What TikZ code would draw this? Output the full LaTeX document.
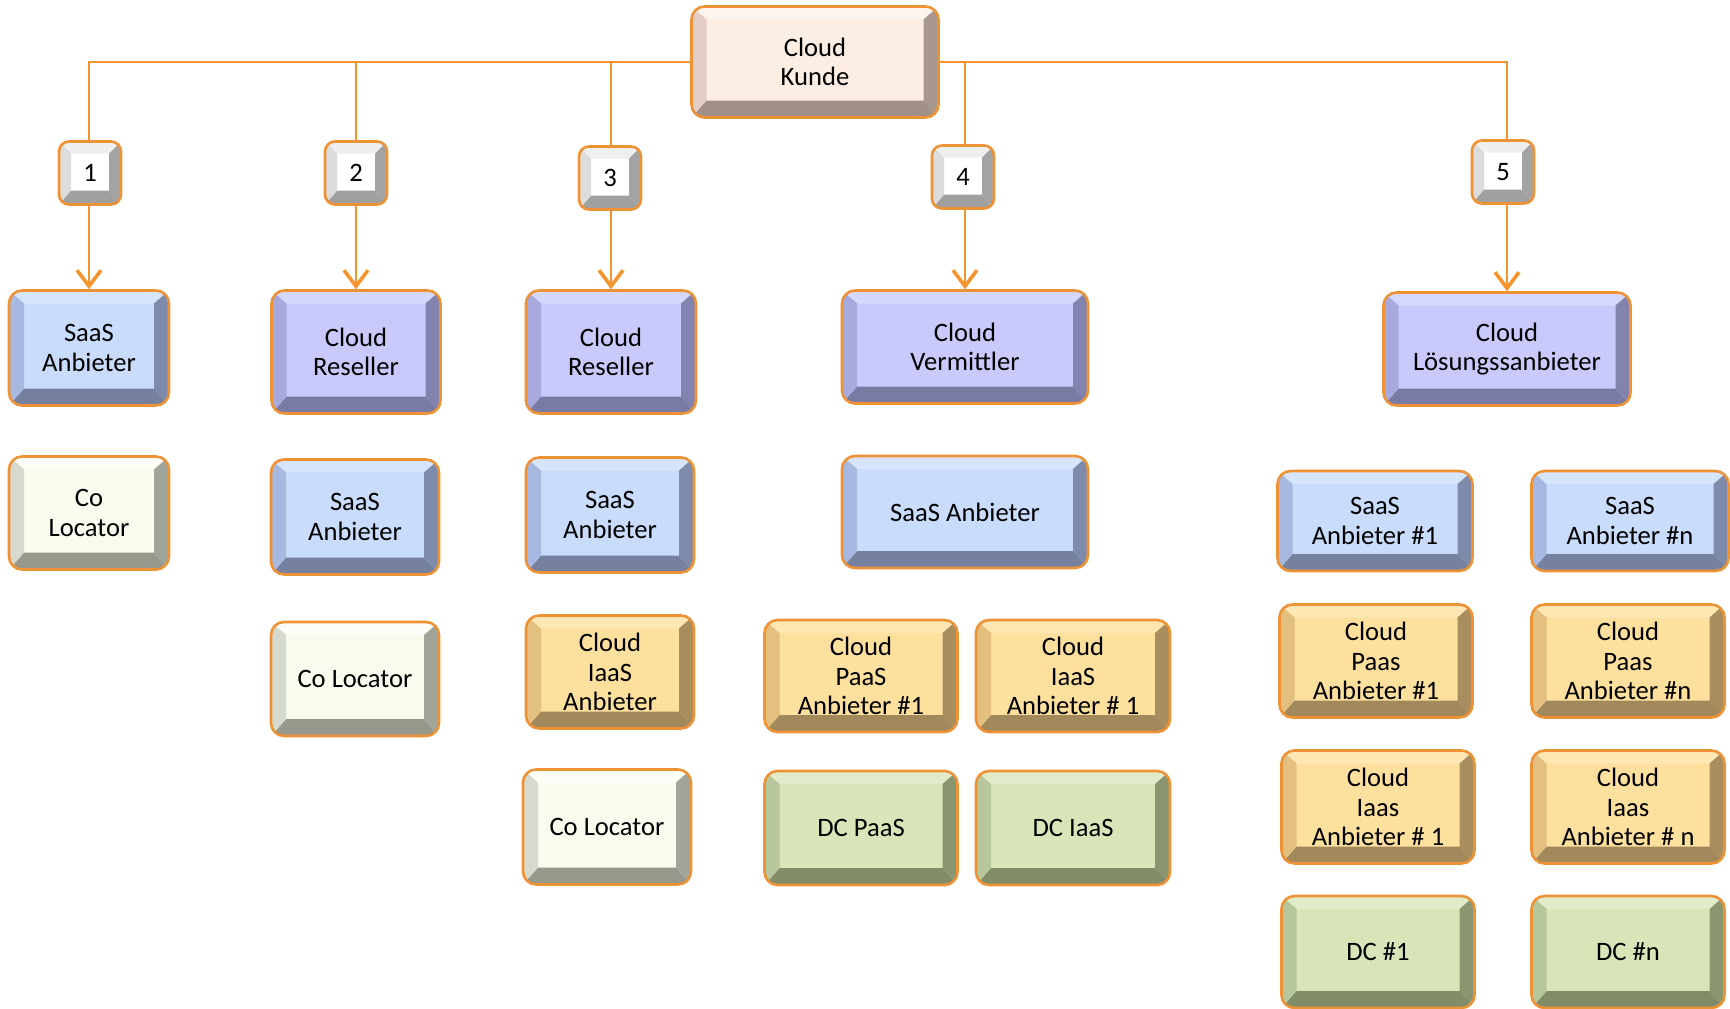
\documentclass[tikz,border=0pt]{standalone}
\usepackage{fontspec}
\setmainfont{Carlito}
\usetikzlibrary{arrows.meta,calc}

% line colours
\definecolor{edgeorange}{HTML}{EE9236}
\definecolor{wire}{HTML}{F6952E}
% face / top / left / right / bottom of each key family
\definecolor{kuF}{HTML}{FDEEE3}\definecolor{kuT}{HTML}{FEF4EE}\definecolor{kuL}{HTML}{E3CDC4}\definecolor{kuR}{HTML}{A8978F}\definecolor{kuB}{HTML}{A09088}
\definecolor{nkF}{HTML}{FFFFFF}\definecolor{nkT}{HTML}{EFEFEF}\definecolor{nkL}{HTML}{DCDCDC}\definecolor{nkR}{HTML}{A3A3A3}\definecolor{nkB}{HTML}{A0A0A0}
\definecolor{saF}{HTML}{C9DCFB}\definecolor{saT}{HTML}{D6E5FC}\definecolor{saL}{HTML}{A7B9E0}\definecolor{saR}{HTML}{7E8BAA}\definecolor{saB}{HTML}{75819E}
\definecolor{clF}{HTML}{C9CAFB}\definecolor{clT}{HTML}{D6D7FC}\definecolor{clL}{HTML}{A8A9DC}\definecolor{clR}{HTML}{8283AE}\definecolor{clB}{HTML}{7A7BA4}
\definecolor{coF}{HTML}{F8FCEF}\definecolor{coT}{HTML}{FBFDF6}\definecolor{coL}{HTML}{D6D9CE}\definecolor{coR}{HTML}{A1A498}\definecolor{coB}{HTML}{96998C}
\definecolor{yeF}{HTML}{FDE09D}\definecolor{yeT}{HTML}{FEE7B2}\definecolor{yeL}{HTML}{E3BF80}\definecolor{yeR}{HTML}{A88D5F}\definecolor{yeB}{HTML}{A1895C}
\definecolor{grF}{HTML}{D8E5B8}\definecolor{grT}{HTML}{E1EBC9}\definecolor{grL}{HTML}{B7C69B}\definecolor{grR}{HTML}{89966F}\definecolor{grB}{HTML}{808D68}

% default bevel insets
\def\bevL{7.5pt}\def\bevT{6.5pt}\def\bevR{7.5pt}\def\bevB{8.5pt}

\tikzset{
  bevel insets/.code n args={4}{\def\bevL{#1}\def\bevT{#2}\def\bevR{#3}\def\bevB{#4}},
  bevel/.style n args={5}{% face, top, left, right, bottom
    draw=edgeorange, line width=1.3pt, rounded corners=6.5pt, fill=#1,
    align=center, inner sep=0pt, font=\fontsize{13.3}{14.6}\selectfont,
    path picture={
      \path (path picture bounding box.south west) coordinate (q1)
            (path picture bounding box.north east) coordinate (q3);
      \path (q1 |- q3) coordinate (q2) (q3 |- q1) coordinate (q4);
      \begin{scope}[sharp corners]
      \fill[#2] (q2) -- (q3) -- ($(q3)+(-\bevR,-\bevT)$) -- ($(q2)+(\bevL,-\bevT)$) -- cycle;
      \fill[#5] (q1) -- (q4) -- ($(q4)+(-\bevR,\bevB)$) -- ($(q1)+(\bevL,\bevB)$) -- cycle;
      \fill[#3] (q1) -- (q2) -- ($(q2)+(\bevL,-\bevT)$) -- ($(q1)+(\bevL,\bevB)$) -- cycle;
      \fill[#4] (q4) -- (q3) -- ($(q3)+(-\bevR,-\bevT)$) -- ($(q4)+(-\bevR,\bevB)$) -- cycle;
      \end{scope}
    }
  },
  kunde/.style={bevel={kuF}{kuT}{kuL}{kuR}{kuB}},
  numkey/.style={bevel={nkF}{nkT}{nkL}{nkR}{nkB}, bevel insets={6pt}{6pt}{6pt}{7pt},
    minimum width=31pt, minimum height=31.5pt, rounded corners=5pt},
  saas/.style={bevel={saF}{saT}{saL}{saR}{saB}},
  cloudrole/.style={bevel={clF}{clT}{clL}{clR}{clB}},
  coloc/.style={bevel={coF}{coT}{coL}{coR}{coB}},
  infra/.style={bevel={yeF}{yeT}{yeL}{yeR}{yeB}},
  dc/.style={bevel={grF}{grT}{grL}{grR}{grB}},
  sz/.style 2 args={minimum width=#1, minimum height=#2},
  wire/.style={draw=wire, line width=1pt},
  arr/.style={wire, -{Straight Barb[length=8pt,width=12pt,line width=1.8pt]}},
}

\begin{document}
\begin{tikzpicture}[x=0.5pt,y=-0.5pt]
\useasboundingbox (0,0) rectangle (1730,1008);

% root
\node[kunde, sz={123.5pt}{55.5pt}] (kunde) at (815,62) {Cloud\\Kunde};

% numbered keys
\node[numkey] (k1) at (90,173) {1};
\node[numkey] (k2) at (356,173) {2};
\node[numkey] (k3) at (610,178) {3};
\node[numkey] (k4) at (963,177) {4};
\node[numkey] (k5) at (1503,172) {5};

% column 1
\node[saas, sz={80pt}{57.5pt}] (saas1) at (89,348) {SaaS\\Anbieter};
\node[coloc, sz={80pt}{56.5pt}] (coloc1) at (89,513) {Co\\Locator};

% column 2
\node[cloudrole, sz={84.5pt}{61.5pt}] (res2) at (356,352) {Cloud\\Reseller};
\node[saas, sz={84pt}{57.5pt}] (saas2) at (355,517) {SaaS\\Anbieter};
\node[coloc, sz={84pt}{57pt}] (coloc2) at (355,679) {Co Locator};

% column 3
\node[cloudrole, sz={85pt}{61.5pt}] (res3) at (611,352) {Cloud\\Reseller};
\node[saas, sz={84pt}{57.5pt}] (saas3) at (610,515) {SaaS\\Anbieter};
\node[infra, sz={84pt}{56.5pt}] (iaas3) at (610,672) {Cloud\\IaaS\\Anbieter};
\node[coloc, sz={84pt}{57.5pt}] (coloc3) at (607,827) {Co Locator};

% column 4
\node[cloudrole, sz={123pt}{56.5pt}] (verm) at (965,347) {Cloud\\Vermittler};
\node[saas, sz={123pt}{56pt}] (saas4) at (965,512) {SaaS Anbieter};
\node[infra, sz={96.5pt}{56pt}] (paas4) at (861,676) {Cloud\\PaaS\\Anbieter \#1};
\node[infra, sz={97pt}{56pt}] (iaas4) at (1073,676) {Cloud\\IaaS\\Anbieter \# 1};
\node[dc, sz={96.5pt}{57pt}] (dcpaas) at (861,828) {DC PaaS};
\node[dc, sz={97pt}{57pt}] (dciaas) at (1073,828) {DC IaaS};

% column 5
\node[cloudrole, sz={123.5pt}{56.5pt}] (loes) at (1507,349) {Cloud\\Lösungssanbieter};
\node[saas, sz={97.5pt}{50pt}] (saas51) at (1375,521) {SaaS\\Anbieter \#1};
\node[saas, sz={98.5pt}{50pt}] (saas5n) at (1630,521) {SaaS\\Anbieter \#n};
\node[infra, sz={96.5pt}{56.5pt}] (paas51) at (1376,661) {Cloud\\Paas\\Anbieter \#1};
\node[infra, sz={96.5pt}{56.5pt}] (paas5n) at (1628,661) {Cloud\\Paas\\Anbieter \#n};
\node[infra, sz={96.5pt}{56.5pt}] (iaas51) at (1378,807) {Cloud\\Iaas\\Anbieter \# 1};
\node[infra, sz={96.5pt}{56.5pt}] (iaas5n) at (1628,807) {Cloud\\Iaas\\Anbieter \# n};
\node[dc, sz={96.5pt}{56pt}] (dc51) at (1378,952) {DC \#1};
\node[dc, sz={96.5pt}{56pt}] (dc5n) at (1628,952) {DC \#n};

% distribution lines from the root, dropping above each role box
\draw[wire] (kunde.west) -| (k1.north -| saas1.north);
\draw[wire] (kunde.west) -| (k2.north -| res2.north);
\draw[wire] (kunde.west) -| (k3.north -| res3.north);
\draw[wire] (kunde.east) -| (k4.north -| verm.north);
\draw[wire] (kunde.east) -| (k5.north -| loes.north);

% arrows to the roles
\draw[arr] (k1.south -| saas1.north) -- (saas1.north);
\draw[arr] (k2.south -| res2.north) -- (res2.north);
\draw[arr] (k3.south -| res3.north) -- (res3.north);
\draw[arr] (k4.south -| verm.north) -- (verm.north);
\draw[arr] (k5.south -| loes.north) -- (loes.north);
\end{tikzpicture}
\end{document}
